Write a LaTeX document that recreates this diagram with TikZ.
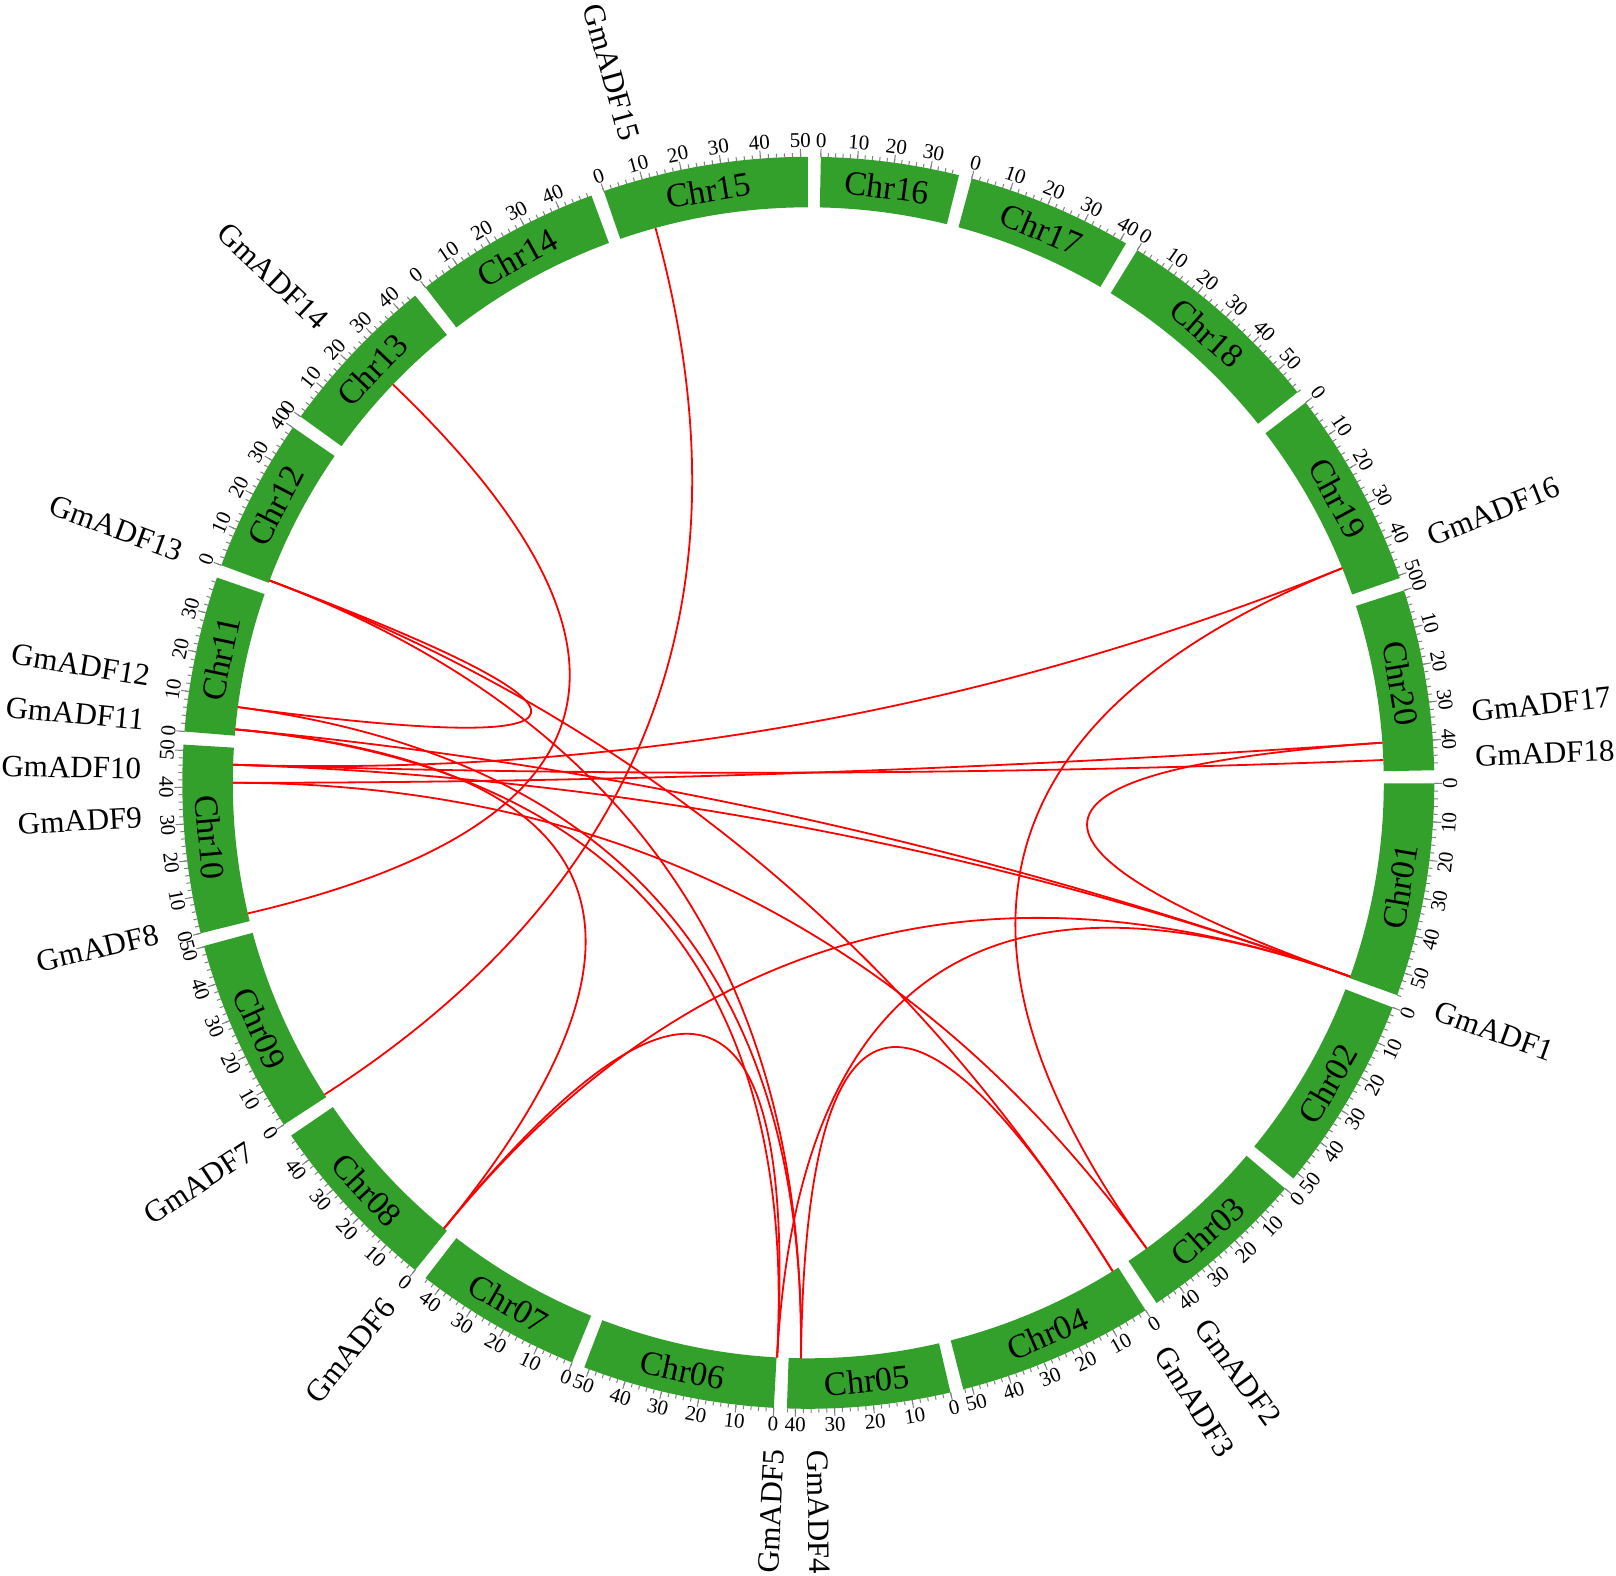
\documentclass[tikz,border=0pt]{standalone}
\usepackage{fontspec}
\setmainfont{Liberation Serif}
\usetikzlibrary{calc}
\definecolor{chrgreen}{RGB}{51,160,44}
\definecolor{tickgray}{RGB}{128,128,128}
\tikzset{
  chrband/.style={fill=chrgreen},
  tickmark/.style={draw=tickgray,line width=0.5pt},
  ticklabel/.style={inner sep=0pt,font=\fontsize{10.5}{12}\selectfont},
  chrlabel/.style={inner sep=0pt,font=\fontsize{17}{19}\selectfont},
  genelabel/.style={inner sep=0pt,font=\fontsize{15.5}{18}\selectfont},
  link/.style={draw=red,line width=0.9pt}
}
\begin{document}
\begin{tikzpicture}[x=0.5pt,y=0.5pt]
\useasboundingbox (-808.3,-792.2) rectangle (807.7,782.8);
\coordinate (o) at (0,0);
% ideogram: name/start/end/length
\foreach \nm/\st/\en/\len in {01/-0.05/-19.83/56.0,02/-21.03/-39.2/51.7,03/-40.4/-56.2/47.8,
  04/-57.4/-75.67/52.4,05/-76.87/-91.96/42.2,06/-93.16/-110.97/51.4,07/-112.17/-127.7/44.6,
  08/-128.9/-145.7/47.8,09/-146.9/-164.89/50.2,10/-166.09/-183.5/51.6,11/-184.7/-199.14/39.2,
  12/-200.34/-214.6/40.1,13/-215.8/-231.1/45.9,14/-232.3/-249.73/49.0,15/-250.93/-269.95/51.8,
  16/-271.15/-283.93/37.9,17/-285.13/-300.5/41.6,18/-301.7/-321.4/58.0,19/-322.6/-340.9/50.7,
  20/-342.1/-358.85/47.9}{
  \pgfmathsetmacro\sc{(\st-\en)/\len}
  \fill[chrband] (\st:575.5) arc[start angle=\st,end angle=\en,radius=575.5]
    -- (\en:626) arc[start angle=\en,end angle=\st,radius=626] -- cycle;
  \foreach \p in {0,2,...,\len}
    \draw[tickmark] ({\st-\p*\sc}:626) -- ({\st-\p*\sc}:630);
  \foreach \p in {0,10,...,\len}{
    \pgfmathsetmacro\ang{\st-\p*\sc}
    \pgfmathsetmacro\an{mod(\ang+720,360)}
    \pgfmathsetmacro\rt{(\an<=180) ? (\an-90) : (\an-270)}
    \draw[tickmark] (\ang:626) -- (\ang:634);
    \node[ticklabel,rotate=\rt] at (\ang:642) {\p};
  }
  \pgfmathsetmacro\md{mod((\st+\en)/2+720,360)}
  \pgfmathsetmacro\rt{(\md<=180) ? (\md-90) : (\md-270)}
  \node[chrlabel,rotate=\rt] (c\nm) at (\md:600.75) {Chr\nm};
}
% gene positions
\foreach \g/\a in {1/-19.68,2/-54.0,3/-58.07,4/-90.73,5/-93.11,6/-129.26,7/-147.2,
  8/-166.88,9/180.0,10/178.2,11/174.67,12/172.44,13/159.42,14/136.2,15/105.4,
  16/21.9,17/4.0,18/2.27}
  \coordinate (g\g) at (\a:575.5);
% gene labels
\foreach \g/\a in {1/-19.9,2/-53.9,3/-58.0,4/-89.2,16/21.6,17/6.1,18/2.3}
  \node[genelabel,anchor=west,rotate=\a] (l\g) at (\a:667) {GmADF\g};
\foreach \g/\a in {5/-92.9,6/-128.9,7/-146.7,8/-166.9,9/-177.0,10/178.8,11/174.6,
  12/170.8,13/159.8,14/136.6,15/105.5}
  \node[genelabel,anchor=east,rotate=\a-180] (l\g) at (\a:667) {GmADF\g};
% duplicated pairs
\foreach \a/\b in {14/8,13/12,15/7,16/2,17/1,9/17,10/18,16/10,6/11,6/5,6/1,3/4,1/5,
  10/1,11/1,13/3,13/4,12/4,11/5,9/2}
  \draw[link] (g\a) .. controls ($(o)!1/3!(g\a)$) and ($(o)!1/3!(g\b)$) .. (g\b);
\end{tikzpicture}
\end{document}
